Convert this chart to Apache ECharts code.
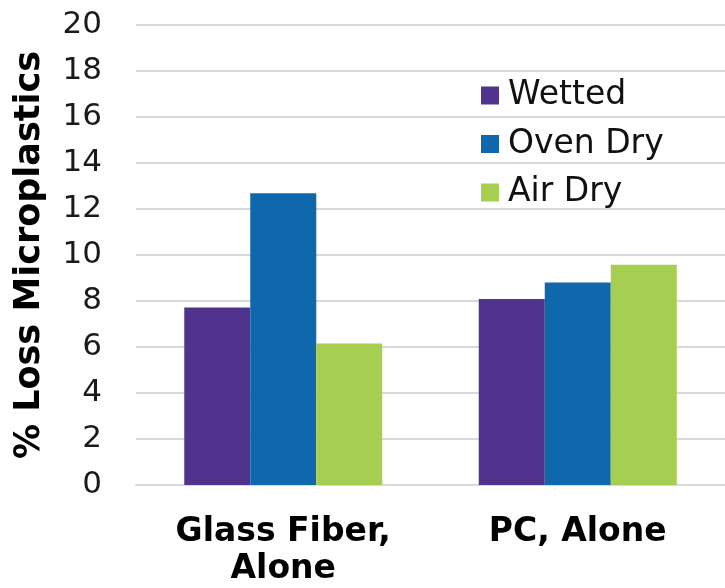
<!DOCTYPE html>
<html>
<head>
<meta charset="utf-8">
<script src="https://cdn.jsdelivr.net/npm/echarts@6/dist/echarts.min.js"></script>
<style>
  html, body { margin: 0; padding: 0; background: #ffffff; }
  #chart { width: 725px; height: 588px; }
</style>
</head>
<body>
<div id="chart"></div>
<script>
// Sample groups along the x axis
const categories = ['Glass Fiber,\nAlone', 'PC, Alone'];

// Percent loss of microplastics per drying treatment
const wetted  = [7.72, 8.09];
const ovenDry = [12.69, 8.80];
const airDry  = [6.15, 9.58];

// Y axis range
const yMin = 0;
const yMax = 20;
const yStep = 2;

const FONT = '"DejaVu Sans", Verdana, sans-serif';

const chart = echarts.init(document.getElementById('chart'), null, { renderer: 'canvas' });

const barStyle = (color) => ({
  type: 'bar',
  barWidth: 66,
  barGap: '0%',
  itemStyle: { color: color },
  emphasis: { disabled: true }
});

chart.setOption({
  animation: false,
  backgroundColor: '#ffffff',
  grid: { left: 136, top: 25, width: 596, height: 461, containLabel: false },
  legend: {
    orient: 'vertical',
    left: 481,
    top: 79,
    padding: 0,
    itemWidth: 18,
    itemHeight: 18,
    itemGap: 15.5,
    icon: 'rect',
    textStyle: {
      fontFamily: FONT,
      fontSize: 33,
      color: '#111111',
      padding: [0, 0, 0, 4]
    },
    data: ['Wetted', 'Oven Dry', 'Air Dry']
  },
  xAxis: {
    type: 'category',
    data: categories,
    axisTick: { show: false },
    axisLine: { show: true, lineStyle: { color: '#D9D9D9', width: 2 } },
    axisLabel: {
      fontFamily: FONT,
      fontWeight: 'bold',
      fontSize: 33,
      lineHeight: 37,
      color: '#000000',
      margin: 29,
      interval: 0
    }
  },
  yAxis: {
    type: 'value',
    min: yMin,
    max: yMax,
    interval: yStep,
    name: '% Loss Microplastics',
    nameLocation: 'middle',
    nameGap: 89,
    nameTextStyle: {
      fontFamily: FONT,
      fontWeight: 'bold',
      fontSize: 35,
      color: '#000000'
    },
    axisLine: { show: false },
    axisTick: { show: false },
    axisLabel: {
      fontFamily: FONT,
      fontSize: 31,
      color: '#1a1a1a',
      margin: 34
    },
    splitLine: { show: true, lineStyle: { color: '#D9D9D9', width: 2 } }
  },
  series: [
    Object.assign(barStyle('#50338C'), { name: 'Wetted', data: wetted }),
    Object.assign(barStyle('#0F67AC'), { name: 'Oven Dry', data: ovenDry }),
    Object.assign(barStyle('#A6CE50'), { name: 'Air Dry', data: airDry })
  ]
});
</script>
</body>
</html>
